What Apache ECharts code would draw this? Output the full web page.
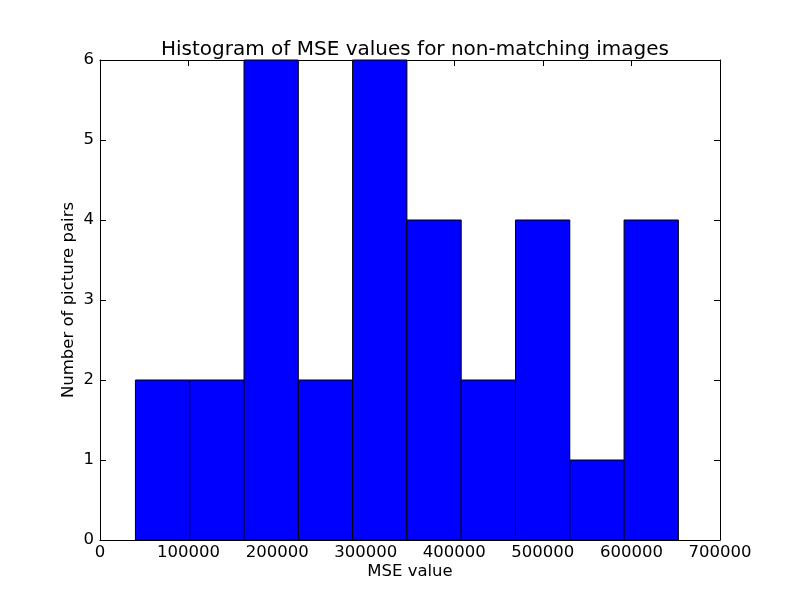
<!DOCTYPE html>
<html>
<head>
<meta charset="utf-8">
<script src="https://cdn.jsdelivr.net/npm/echarts@6/dist/echarts.min.js"></script>
<style>html,body{margin:0;padding:0;background:#fff}#c{width:800px;height:600px}</style>
</head>
<body>
<div id="c"></div>
<script>
const binEdges = [40000, 101300, 162600, 223900, 285200, 346500, 407800, 469100, 530400, 591700, 653000];
const counts = [2, 2, 6, 2, 6, 4, 2, 4, 1, 4];
const xTicks = [0, 100000, 200000, 300000, 400000, 500000, 600000, 700000];
const yTicks = [0, 1, 2, 3, 4, 5, 6];

const data = counts.map((c, i) => [binEdges[i], binEdges[i + 1], c]);
const FONT = 'DejaVu Sans';
const fs = 16.5;

const chart = echarts.init(document.getElementById('c'), null, {renderer: 'canvas'});
const tickStyle = {show: true, inside: true, length: 6, lineStyle: {color: '#000', width: 1}};
const lineStyle = {show: true, onZero: false, lineStyle: {color: '#000', width: 1}};
const plain = v => String(v);
chart.setOption({
  animation: false,
  backgroundColor: '#fff',
  title: {
    text: 'Histogram of MSE values for non-matching images',
    left: 410, top: 35, textAlign: 'center',
    textStyle: {fontFamily: FONT, fontSize: 20, fontWeight: 'normal', color: '#000'}
  },
  grid: {left: 100, right: 80, top: 60, bottom: 60, containLabel: false},
  xAxis: [{
    type: 'value', min: xTicks[0], max: xTicks[xTicks.length - 1], interval: 100000,
    name: 'MSE value', nameLocation: 'middle', nameGap: 23, nameMoveOverlap: false,
    nameTextStyle: {fontFamily: FONT, fontSize: fs, color: '#000'},
    axisLine: lineStyle, axisTick: tickStyle, splitLine: {show: false},
    axisLabel: {fontFamily: FONT, fontSize: fs, color: '#000', margin: 4, formatter: plain}
  }, {
    type: 'value', position: 'top', min: xTicks[0], max: xTicks[xTicks.length - 1], interval: 100000,
    axisLine: lineStyle, axisTick: tickStyle, splitLine: {show: false}, axisLabel: {show: false}
  }],
  yAxis: [{
    type: 'value', min: yTicks[0], max: yTicks[yTicks.length - 1], interval: 1,
    name: 'Number of picture pairs', nameLocation: 'middle', nameGap: 23, nameMoveOverlap: false,
    nameTextStyle: {fontFamily: FONT, fontSize: fs, color: '#000'},
    axisLine: lineStyle, axisTick: tickStyle, splitLine: {show: false},
    axisLabel: {fontFamily: FONT, fontSize: fs, color: '#000', margin: 6, formatter: plain}
  }, {
    type: 'value', position: 'right', min: yTicks[0], max: yTicks[yTicks.length - 1], interval: 1,
    axisLine: lineStyle, axisTick: tickStyle, splitLine: {show: false}, axisLabel: {show: false}
  }],
  series: [{
    type: 'custom',
    xAxisIndex: 0, yAxisIndex: 0,
    encode: {x: [0, 1], y: 2},
    data: data,
    renderItem: function (params, api) {
      const p0 = api.coord([api.value(0), api.value(2)]);
      const p1 = api.coord([api.value(1), 0]);
      return {
        type: 'rect',
        shape: {x: p0[0], y: p0[1], width: p1[0] - p0[0], height: p1[1] - p0[1]},
        style: {fill: '#0000ff', stroke: '#000', lineWidth: 1}
      };
    }
  }]
});
</script>
</body>
</html>
